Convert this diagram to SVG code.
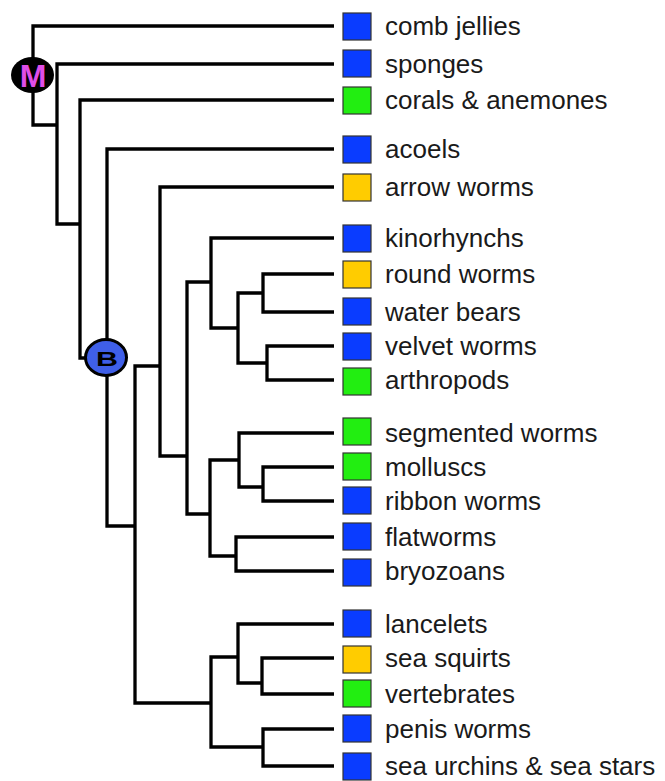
<svg xmlns="http://www.w3.org/2000/svg" width="665" height="781" viewBox="0 0 665 781">
<style>
.ln{fill:none;stroke:#000;stroke-width:3.3;stroke-linejoin:miter;stroke-linecap:butt}
.sq{stroke:#333;stroke-width:1.2}
.b{fill:#0a3cff}.g{fill:#22ee11}.o{fill:#ffcc00}
.lb{font-family:"Liberation Sans",Arial,sans-serif;font-size:26px;fill:#1a1a1a}
</style>
<rect width="665" height="781" fill="#fff"/>
<g id="connectors" class="ln">
<path d="M334,26 H33 V125 H57"/>
<path d="M334,64 H57 V224 H80"/>
<path d="M334,100 H80 V358 H90"/>
<path d="M334,149 H107 V526 H135"/>
<path d="M160,366 H135 V703 H211"/>
<path d="M334,187 H160 V456 H187"/>
<path d="M211,282 H187 V514 H210"/>
<path d="M334,238 H211 V328 H238"/>
<path d="M263,293 H238 V363 H267"/>
<path d="M334,274 H263 V312 H334"/>
<path d="M334,346 H267 V380 H334"/>
<path d="M239,460 H210 V556 H236"/>
<path d="M334,433 H239 V487 H263"/>
<path d="M334,467 H263 V501 H334"/>
<path d="M334,537 H236 V571 H334"/>
<path d="M238,657 H211 V747 H263"/>
<path d="M334,624 H238 V683 H262"/>
<path d="M334,658 H262 V694 H334"/>
<path d="M334,729 H263 V766 H334"/>
</g>
<g id="node-M">
<ellipse cx="32.5" cy="75" rx="21.5" ry="18" fill="#000"/>
<text x="33" y="87" text-anchor="middle" font-family="Liberation Sans,Arial,sans-serif" font-weight="bold" font-size="32" fill="#e04ee8">M</text>
</g>
<g id="node-B">
<ellipse cx="106" cy="357.5" rx="20.5" ry="18" fill="#3f5fe8" stroke="#000" stroke-width="3"/>
<text transform="translate(107,366) scale(1.45,1)" x="0" y="0" text-anchor="middle" font-family="Liberation Sans,Arial,sans-serif" font-weight="bold" font-size="21" fill="#000">B</text>
</g>
<g id="leaf-comb-jellies"><rect class="sq b" x="343" y="13" width="28" height="27"/><text class="lb" x="385" y="35">comb jellies</text></g>
<g id="leaf-sponges"><rect class="sq b" x="343" y="50" width="28" height="27"/><text class="lb" x="385" y="73">sponges</text></g>
<g id="leaf-corals"><rect class="sq g" x="343" y="87" width="28" height="27"/><text class="lb" x="385" y="109">corals &amp; anemones</text></g>
<g id="leaf-acoels"><rect class="sq b" x="343" y="136" width="28" height="27"/><text class="lb" x="385" y="158">acoels</text></g>
<g id="leaf-arrow-worms"><rect class="sq o" x="343" y="174" width="28" height="27"/><text class="lb" x="385" y="196">arrow worms</text></g>
<g id="leaf-kinorhynchs"><rect class="sq b" x="343" y="225" width="28" height="27"/><text class="lb" x="385" y="247">kinorhynchs</text></g>
<g id="leaf-round-worms"><rect class="sq o" x="343" y="261" width="28" height="27"/><text class="lb" x="385" y="283">round worms</text></g>
<g id="leaf-water-bears"><rect class="sq b" x="343" y="298" width="28" height="27"/><text class="lb" x="385" y="321">water bears</text></g>
<g id="leaf-velvet-worms"><rect class="sq b" x="343" y="333" width="28" height="27"/><text class="lb" x="385" y="355">velvet worms</text></g>
<g id="leaf-arthropods"><rect class="sq g" x="343" y="368" width="28" height="27"/><text class="lb" x="385" y="389">arthropods</text></g>
<g id="leaf-segmented-worms"><rect class="sq g" x="343" y="418" width="28" height="27"/><text class="lb" x="385" y="442">segmented worms</text></g>
<g id="leaf-molluscs"><rect class="sq g" x="343" y="453" width="28" height="27"/><text class="lb" x="385" y="476">molluscs</text></g>
<g id="leaf-ribbon-worms"><rect class="sq b" x="343" y="487" width="28" height="27"/><text class="lb" x="385" y="510">ribbon worms</text></g>
<g id="leaf-flatworms"><rect class="sq b" x="343" y="523" width="28" height="27"/><text class="lb" x="385" y="546">flatworms</text></g>
<g id="leaf-bryozoans"><rect class="sq b" x="343" y="559" width="28" height="27"/><text class="lb" x="385" y="580">bryozoans</text></g>
<g id="leaf-lancelets"><rect class="sq b" x="343" y="610" width="28" height="27"/><text class="lb" x="385" y="633">lancelets</text></g>
<g id="leaf-sea-squirts"><rect class="sq o" x="343" y="646" width="28" height="27"/><text class="lb" x="385" y="667">sea squirts</text></g>
<g id="leaf-vertebrates"><rect class="sq g" x="343" y="680" width="28" height="27"/><text class="lb" x="385" y="703">vertebrates</text></g>
<g id="leaf-penis-worms"><rect class="sq b" x="343" y="715" width="28" height="27"/><text class="lb" x="385" y="738">penis worms</text></g>
<g id="leaf-sea-urchins"><rect class="sq b" x="343" y="753" width="28" height="27"/><text class="lb" x="385" y="775">sea urchins &amp; sea stars</text></g>
</svg>
